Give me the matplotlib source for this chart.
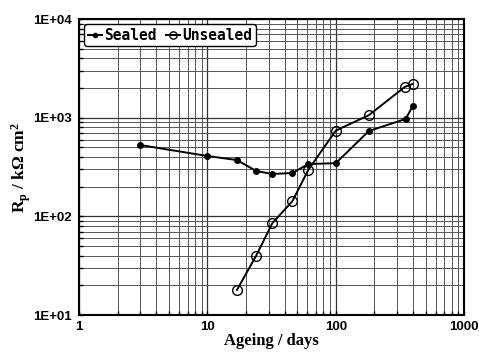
import matplotlib
matplotlib.use("Agg")
import matplotlib.pyplot as plt
from matplotlib.ticker import LogLocator, FixedLocator, NullFormatter

plt.rcParams["mathtext.fontset"] = "custom"
plt.rcParams["mathtext.rm"] = "Liberation Serif:bold"
plt.rcParams["mathtext.it"] = "Liberation Serif:bold"
plt.rcParams["mathtext.bf"] = "Liberation Serif:bold"

sealed_days = [3, 10, 17, 24, 32, 46, 61, 100, 181, 350, 398]
sealed_rp = [528, 409, 372, 288, 269, 275, 339, 346, 733, 970, 1315]
unsealed_days = [17, 24, 32, 46, 61, 100, 181, 345, 398]
unsealed_rp = [18, 40, 85, 143, 295, 740, 1060, 2050, 2200]
x_ticks = [1, 10, 100, 1000]
x_tick_labels = ["1", "10", "100", "1000"]
y_ticks = [10, 100, 1000, 10000]
y_tick_labels = ["1E+01", "1E+02", "1E+03", "1E+04"]

fig = plt.figure(figsize=(4.79, 3.52), dpi=100)
ax = fig.add_axes([0.165, 0.105, 0.804, 0.841])
ax.set_xscale("log")
ax.set_yscale("log")
ax.set_xlim(1, 1000)
ax.set_ylim(10, 10000)

ax.plot(sealed_days, sealed_rp, "-", color="black", lw=1.4, marker="o",
        ms=4, mfc="black", mec="black", label="Sealed", zorder=3)
ax.plot(unsealed_days, unsealed_rp, "-", color="black", lw=1.4, marker="o",
        ms=7, mfc="none", mec="black", mew=1.0, label="Unsealed", zorder=3)

ax.xaxis.set_major_locator(FixedLocator(x_ticks))
ax.set_xticklabels(x_tick_labels)
ax.yaxis.set_major_locator(FixedLocator(y_ticks))
ax.set_yticklabels(y_tick_labels)
ax.xaxis.set_minor_locator(LogLocator(base=10, subs=range(2, 10)))
ax.yaxis.set_minor_locator(LogLocator(base=10, subs=range(2, 10)))
ax.xaxis.set_minor_formatter(NullFormatter())
ax.yaxis.set_minor_formatter(NullFormatter())

ax.grid(True, which="major", color="#333333", lw=0.9)
ax.grid(True, which="minor", color="#555555", lw=0.7)
ax.set_axisbelow(True)

for lab in ax.get_xticklabels() + ax.get_yticklabels():
    lab.set_fontfamily("Liberation Sans")
    lab.set_fontweight("bold")
    lab.set_fontsize(9.5)
ax.tick_params(which="both", direction="in", length=3, width=1)
ax.tick_params(axis="y", which="major", pad=5)
ax.tick_params(axis="x", which="major", pad=4)
for sp in ax.spines.values():
    sp.set_linewidth(1.5)

ax.set_xlabel("Ageing / days", fontfamily="Liberation Serif",
              fontweight="bold", fontsize=12, labelpad=0)
ax.set_ylabel(r"R$_\mathrm{p}$ / k$\Omega$ cm$^\mathrm{2}$",
              fontfamily="Liberation Serif", fontweight="bold", fontsize=12.5,
              labelpad=0)

leg = ax.legend(loc="upper left", ncol=2, frameon=True, fancybox=True,
                prop={"family": "DejaVu Sans Mono", "weight": "bold", "size": 10.5},
                handlelength=1.0, handletextpad=0.15, columnspacing=0.6,
                borderpad=0.25, borderaxespad=0.35, markerscale=0.75)
leg.get_frame().set_edgecolor("black")
leg.get_frame().set_linewidth(1.0)
leg.get_frame().set_alpha(1)

fig.savefig("out.png", dpi=100, facecolor="white")
